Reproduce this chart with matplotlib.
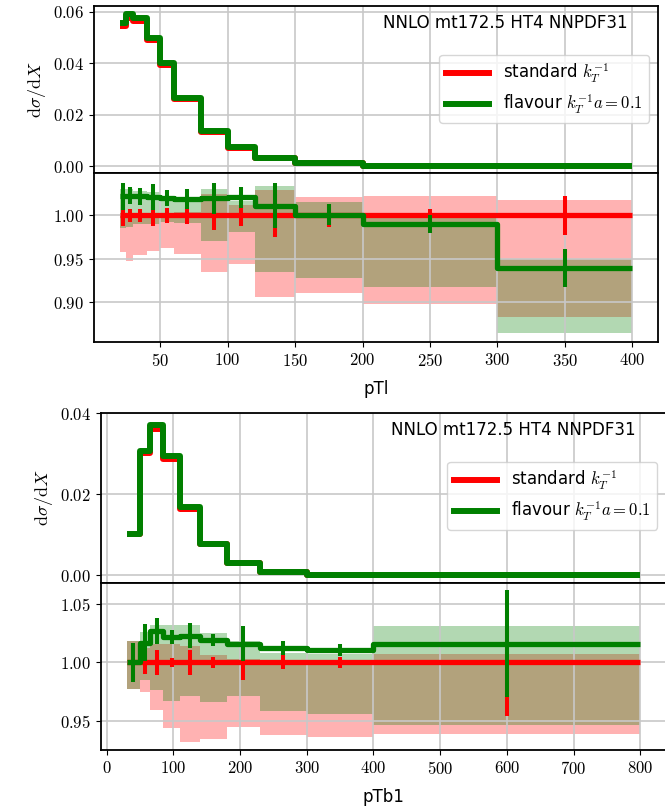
"""Two stacked NNLO comparison plots (pTl, pTb1): spectrum + ratio to standard kT^-1."""

import numpy as np
import matplotlib

matplotlib.use("Agg")  # headless backend before pyplot

import matplotlib.pyplot as plt
from matplotlib.ticker import MultipleLocator

plt.rcParams.update({
    "font.family": "serif",
    "font.serif": ["cmr10"],
    "mathtext.fontset": "cm",
    "axes.formatter.use_mathtext": True,
    "font.size": 12,
})

# ---- pTl --------------------------------------------------------------------
ptl_edges = [20, 25, 30, 40, 50, 60, 80, 100, 120, 150, 200, 300, 400]
ptl_std = [0.0546, 0.0577, 0.0566, 0.0490, 0.0395, 0.0261, 0.0133, 0.0073,
           0.0032, 0.0012, 0.0003, 0.00006]
ptl_flav = [0.0558, 0.0590, 0.0578, 0.0500, 0.0403, 0.0266, 0.0136, 0.0074,
            0.0032, 0.0012, 0.0003, 0.00005]
ptl_std_lo = [0.958, 0.947, 0.954, 0.959, 0.963, 0.956, 0.935, 0.944, 0.906,
              0.911, 0.898, 0.883]
ptl_std_hi = [1.001, 1.001, 1.002, 1.003, 1.003, 1.004, 1.025, 1.012, 1.029,
              1.021, 1.022, 1.018]
ptl_std_err = [0.012, 0.008, 0.008, 0.012, 0.009, 0.010, 0.017, 0.012, 0.025,
               0.013, 0.008, 0.022]
ptl_flav_ratio = [1.022, 1.023, 1.022, 1.021, 1.020, 1.019, 1.020, 1.021,
                  1.011, 1.001, 0.990, 0.939]
ptl_flav_lo = [0.985, 0.987, 0.990, 0.990, 0.992, 0.991, 0.971, 0.981, 0.935,
               0.928, 0.917, 0.864]
ptl_flav_hi = [1.030, 1.030, 1.028, 1.027, 1.018, 1.017, 1.031, 1.017, 1.034,
               1.016, 1.001, 0.950]
ptl_flav_err = [0.016, 0.010, 0.010, 0.015, 0.009, 0.012, 0.018, 0.012, 0.026,
                0.012, 0.010, 0.022]

# ---- pTb1 -------------------------------------------------------------------
ptb_edges = [30, 50, 65, 85, 110, 140, 180, 230, 300, 400, 800]
ptb_std = [0.0101, 0.0303, 0.0362, 0.0288, 0.0164, 0.0077, 0.0030, 0.0008,
           0.0002, 0.00002]
ptb_flav = [0.0101, 0.0308, 0.0372, 0.0294, 0.0168, 0.0078, 0.0030, 0.0008,
            0.0002, 0.00002]
ptb_std_lo = [0.977, 0.975, 0.959, 0.944, 0.932, 0.934, 0.945, 0.938, 0.936,
              0.939]
ptb_std_hi = [1.018, 1.012, 1.016, 1.016, 1.014, 1.006, 1.003, 1.002, 1.002,
              1.007]
ptb_std_err = [0.015, 0.010, 0.011, 0.004, 0.011, 0.005, 0.015, 0.006, 0.005,
               0.046]
ptb_flav_ratio = [1.000, 1.017, 1.027, 1.022, 1.023, 1.019, 1.016, 1.012,
                  1.0105, 1.016]
ptb_flav_lo = [0.977, 0.985, 0.976, 0.967, 0.971, 0.966, 0.971, 0.958, 0.956,
               0.946]
ptb_flav_hi = [1.018, 1.026, 1.032, 1.032, 1.032, 1.025, 1.018, 1.008, 1.007,
               1.031]
ptb_flav_err = [0.017, 0.016, 0.011, 0.006, 0.011, 0.005, 0.015, 0.006, 0.005,
                0.046]

TITLE = "NNLO mt172.5 HT4 NNPDF31"
LABELS = ["standard $k_T^{-1}$", r"flavour $k_T^{-1}a=0.1$"]
SANS = "DejaVu Sans"
W, H = 665, 807


def px_rect(x0, y0, x1, y1):
    """Pixel box (top-left origin) -> figure fraction rect."""
    return [x0 / W, 1 - y1 / H, (x1 - x0) / W, (y1 - y0) / H]


def draw(fig, box_main, box_ratio, edges, std, flav, std_lo, std_hi, std_err,
         flav_r, flav_lo, flav_hi, flav_err, xlabel, xstep, ystep, ylim_main,
         ylim_ratio):
    """One spectrum panel plus its ratio panel underneath."""
    ax = fig.add_axes(px_rect(*box_main))
    rx = fig.add_axes(px_rect(*box_ratio), sharex=ax)
    edges = np.asarray(edges, float)
    mids = 0.5 * (edges[1:] + edges[:-1])
    step = dict(baseline=None, joinstyle="round", capstyle="butt")

    ax.stairs(std, edges, color="red", lw=4.3, label=LABELS[0], zorder=3, **step)
    ax.stairs(flav, edges, color="green", lw=4.3, label=LABELS[1], zorder=4, **step)
    ax.set_ylim(*ylim_main)
    ax.yaxis.set_major_locator(MultipleLocator(ystep))
    ax.tick_params(labelbottom=False)
    ax.set_ylabel(r"$\mathrm{d}\sigma/\mathrm{d}X$", fontsize=13)
    ax.grid(True, color="#c8c8c8", lw=1.2)
    hpx = box_main[3] - box_main[1]
    wpx = box_main[2] - box_main[0]
    ax.text(1 - 30 / wpx, 1 - 8 / hpx, TITLE, ha="right", va="top",
            transform=ax.transAxes, family=SANS, fontsize=12)
    leg = ax.legend(loc="upper right", bbox_to_anchor=(1 - 9 / wpx, 1 - 49 / hpx),
                    borderaxespad=0, handlelength=2.6, prop={"family": SANS, "size": 12})
    leg.set_zorder(6)

    ones = np.ones(len(std))
    rx.stairs(std_hi, edges, baseline=std_lo, fill=True, color="red", alpha=0.3, lw=0)
    rx.stairs(flav_hi, edges, baseline=flav_lo, fill=True, color="green", alpha=0.3, lw=0)
    rx.stairs(ones, edges, color="red", lw=3.8, zorder=3, **step)
    rx.errorbar(mids, ones, yerr=std_err, fmt="none", ecolor="red", elinewidth=2.9,
                capsize=0, zorder=3)
    rx.stairs(flav_r, edges, color="green", lw=3.8, zorder=4, **step)
    rx.errorbar(mids, flav_r, yerr=flav_err, fmt="none", ecolor="green",
                elinewidth=2.9, capsize=0, zorder=4)
    rx.set_ylim(*ylim_ratio)
    rx.yaxis.set_major_locator(MultipleLocator(0.05))
    rx.xaxis.set_major_locator(MultipleLocator(xstep))
    rx.grid(True, color="#c8c8c8", lw=1.2)
    rx.set_xlabel(xlabel, family=SANS, fontsize=12, labelpad=8)
    for a in (ax, rx):
        for s in a.spines.values():
            s.set_linewidth(1.3)


fig = plt.figure(figsize=(W / 100, H / 100), dpi=100)
draw(fig, (94, 6, 658, 173), (94, 173, 658, 342), ptl_edges, ptl_std, ptl_flav,
     ptl_std_lo, ptl_std_hi, ptl_std_err, ptl_flav_ratio, ptl_flav_lo,
     ptl_flav_hi, ptl_flav_err, "pTl", 50, 0.02, (-0.0026, 0.0623), (0.854, 1.049))
draw(fig, (101, 413, 666, 583), (101, 583, 666, 750), ptb_edges, ptb_std, ptb_flav,
     ptb_std_lo, ptb_std_hi, ptb_std_err, ptb_flav_ratio, ptb_flav_lo,
     ptb_flav_hi, ptb_flav_err, "pTb1", 100, 0.02, (-0.0019, 0.0401), (0.925, 1.068))
fig.savefig("out.png", dpi=100)
